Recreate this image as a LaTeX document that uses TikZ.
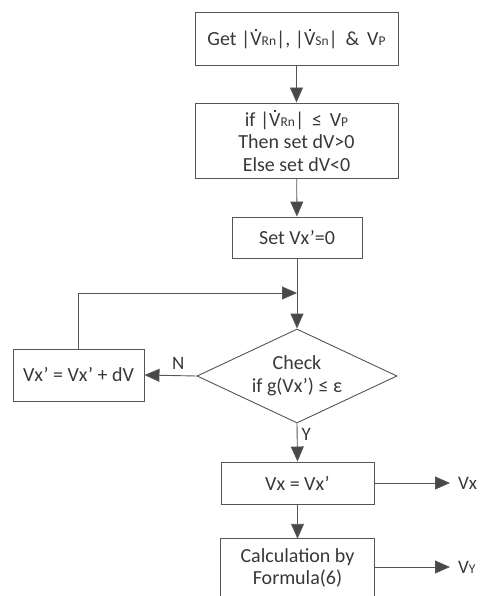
\documentclass[tikz,border=0pt]{standalone}
\usepackage{fontspec}
\setmainfont{Carlito}
\usetikzlibrary{shapes.geometric,arrows.meta}
\definecolor{ln}{HTML}{555555}
\definecolor{tx}{HTML}{383838}
\newcommand{\sm}[1]{{\fontsize{13.5}{13.5}\selectfont #1}}
\newcommand{\Vd}{\leavevmode\rlap{\hspace{0.24em}\raisebox{0.72em}{\rule{2.2pt}{2.2pt}}}V}
\begin{document}
\begin{tikzpicture}[x=1pt,y=-1pt,
  font=\fontsize{20}{22.5}\selectfont,
  every node/.style={text=tx},
  box/.style={draw=ln,line width=0.9pt,inner sep=0pt,align=center},
  dia/.style={draw=ln,line width=0.9pt,diamond,inner sep=0pt,aspect=2.13,align=center,minimum width=200pt,minimum height=94pt},
  arr/.style={draw=ln,line width=0.9pt,-{Triangle[length=15pt,width=13pt,fill=ln!85!black]}},
  lbl/.style={font=\fontsize{19}{20}\selectfont,inner sep=0pt}]
\useasboundingbox (0,0) rectangle (484,596);
\node[box,minimum width=203pt,minimum height=53pt] (b1) at (296.5,38.5) {Get |\Vd\sm{Rn}|, |\Vd\sm{Sn}| \,\& \,V\sm{P}};
\node[box,minimum width=203pt,minimum height=75pt] (b2) at (296.5,140.5) {if |\Vd\sm{Rn}| \,≤ \,V\sm{P}\\Then set dV>0\\Else set dV<0};
\node[box,minimum width=130pt,minimum height=41pt] (b3) at (297,237.5) {Set Vx’=0};
\node[dia] (d) at (297,376) {Check\\if g(Vx’) ≤ ε};
\node[box,minimum width=131pt,minimum height=52pt] (b4) at (78.5,375) {Vx’ = Vx’ + dV};
\node[box,minimum width=153pt,minimum height=42pt] (b5) at (297.5,483) {Vx = Vx’};
\node[inner sep=0pt,minimum width=153pt,minimum height=58pt,align=center] (b6) at (297.5,568) {Calculation by\\Formula(6)};
\draw[ln,line width=0.9pt] (b6.south west) -- (b6.north west) -- (b6.north east) -- (b6.south east);
\coordinate (j) at (297,293);
\coordinate (ox) at (450,483);
\coordinate (oy) at (450,567);
\draw[arr] (b1) -- (b2);
\draw[arr] (b2) -- (b3);
\draw[arr] (b3) -- (d);
\draw[arr] (b4.north) |- (j);
\draw[arr] (d.west) -- (b4.east) node[lbl,pos=0.35,above=6pt] (n) {N};
\draw[arr] (d.south) -- (b5.north) node[lbl,pos=0.3,right=4pt] (y) {Y};
\draw[arr] (b5.south) -- (b6.north);
\draw[arr] (b5.east) -- (ox);
\draw[arr] (b6.east|-oy) -- (oy);
\node[lbl,anchor=west] (vx) at (458,483) {Vx};
\node[lbl,anchor=west] (vy) at (458,567) {V\sm{Y}};
\end{tikzpicture}
\end{document}
